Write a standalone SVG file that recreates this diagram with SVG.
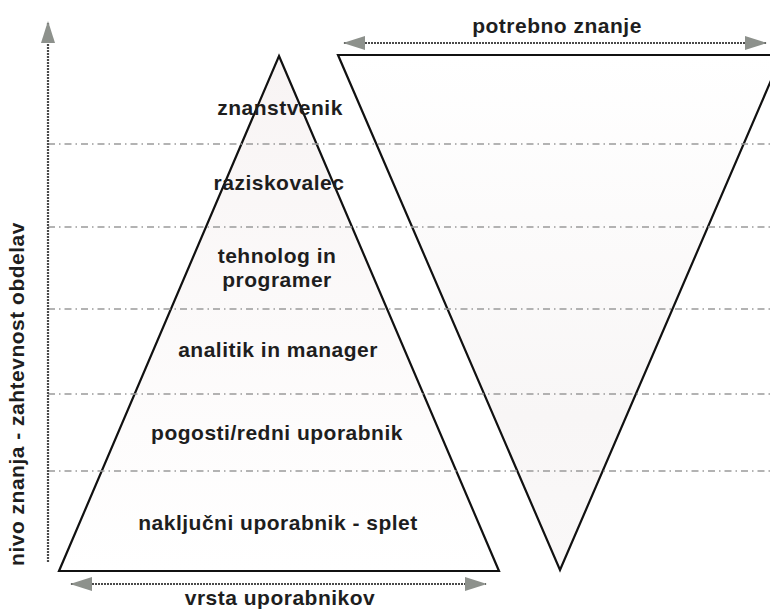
<svg xmlns="http://www.w3.org/2000/svg" width="770" height="611" viewBox="0 0 770 611">
  <style>
    .lbl { font-family: "Liberation Sans", Arial, sans-serif; font-weight: bold; font-size: 21px; letter-spacing: 0.5px; fill: #1e1e1e; text-anchor: middle; }
    .tri { stroke: #111; stroke-width: 2.2; stroke-linejoin: miter; }
    .level { stroke: #9a9a9a; stroke-width: 1.3; stroke-dasharray: 7 4 1.5 4; fill: none; }
    .shaft { stroke: #4a4a4a; stroke-width: 2.2; stroke-dasharray: 2 1; fill: none; }
  </style>
  <defs>
    <marker id="head" viewBox="0 0 22 14" refX="21" refY="7" markerUnits="userSpaceOnUse" markerWidth="22" markerHeight="14" orient="auto-start-reverse">
      <path d="M0,0 L22,7 L0,14 Z" fill="#8d918c"/>
    </marker>
    <linearGradient id="gUp" x1="0" y1="0" x2="0" y2="1">
      <stop offset="0" stop-color="#f8f4f4"/>
      <stop offset="1" stop-color="#ffffff"/>
    </linearGradient>
    <linearGradient id="gDown" x1="0" y1="0" x2="0" y2="1">
      <stop offset="0" stop-color="#ffffff"/>
      <stop offset="0.7" stop-color="#f8f6f6"/>
      <stop offset="1" stop-color="#faf8f8"/>
    </linearGradient>
  </defs>
  <rect width="770" height="611" fill="#ffffff"/>

  <g id="pyramid-users">
    <polygon class="tri" points="279,56 499,571 59,571" fill="url(#gUp)"/>
  </g>
  <g id="pyramid-knowledge">
    <polygon class="tri" points="338,55 782,55 560,570" fill="url(#gDown)"/>
  </g>

  <g id="levels">
    <line class="level" x1="48" y1="144" x2="770" y2="144"/>
    <line class="level" x1="48" y1="227" x2="770" y2="227"/>
    <line class="level" x1="48" y1="309" x2="770" y2="309"/>
    <line class="level" x1="48" y1="394" x2="770" y2="394"/>
    <line class="level" x1="48" y1="471" x2="770" y2="471"/>
  </g>

  <g id="node-znanstvenik"><text class="lbl" x="280" y="115">znanstvenik</text></g>
  <g id="node-raziskovalec"><text class="lbl" x="279" y="190">raziskovalec</text></g>
  <g id="node-tehnolog"><text class="lbl" x="277" y="263">tehnolog in</text><text class="lbl" x="277" y="287">programer</text></g>
  <g id="node-analitik"><text class="lbl" x="278" y="357">analitik in manager</text></g>
  <g id="node-pogosti"><text class="lbl" x="277" y="440">pogosti/redni uporabnik</text></g>
  <g id="node-nakljucni"><text class="lbl" x="278" y="530">naključni uporabnik - splet</text></g>

  <g id="connectors">
    <line class="shaft" x1="48" y1="562" x2="48" y2="22" marker-end="url(#head)"/>
    <line class="shaft" x1="344" y1="43" x2="766" y2="43" marker-start="url(#head)" marker-end="url(#head)"/>
    <line class="shaft" x1="71" y1="584" x2="486" y2="584" marker-start="url(#head)" marker-end="url(#head)"/>
  </g>

  <g id="axis-labels">
    <text class="lbl" x="557" y="33">potrebno znanje</text>
    <text class="lbl" x="280" y="605">vrsta uporabnikov</text>
    <text class="lbl" transform="translate(24,394) rotate(-90)">nivo znanja - zahtevnost obdelav</text>
  </g>
</svg>
